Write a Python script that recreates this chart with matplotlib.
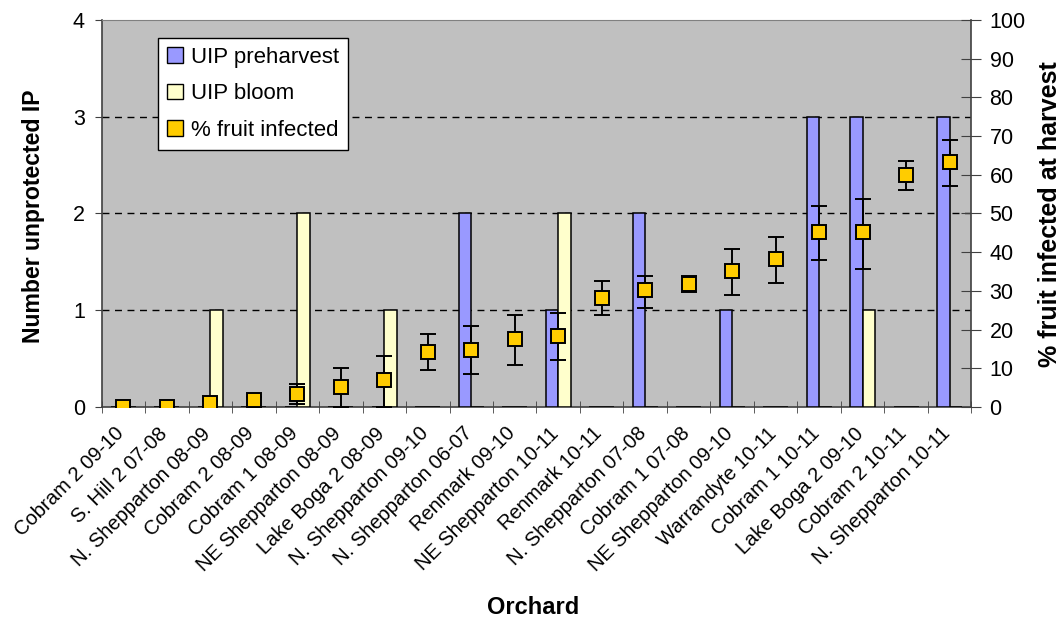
import matplotlib
matplotlib.use('Agg')
import matplotlib.pyplot as plt
import matplotlib.transforms as mtransforms
import numpy as np
from matplotlib.patches import Patch

plt.rcParams['font.family'] = ['Liberation Sans', 'DejaVu Sans']

# Orchards and seasons, ordered by % fruit infected
orchards = [
    "Cobram 2 09-10", "S. Hill 2 07-08", "N. Shepparton 08-09", "Cobram 2 08-09",
    "Cobram 1 08-09", "NE Shepparton 08-09", "Lake Boga 2 08-09", "N. Shepparton 09-10",
    "N. Shepparton 06-07", "Renmark 09-10", "NE Shepparton 10-11", "Renmark 10-11",
    "N. Shepparton 07-08", "Cobram 1 07-08", "NE Shepparton 09-10", "Warrandyte 10-11",
    "Cobram 1 10-11", "Lake Boga 2 09-10", "Cobram 2 10-11", "N. Shepparton 10-11",
]

# Number of unprotected infection periods
uip_preharvest = [0, 0, 0, 0, 0, 0, 0, 0, 2, 0, 1, 0, 2, 0, 1, 0, 3, 3, 0, 3]
uip_bloom = [0, 0, 1, 0, 2, 0, 1, 0, 0, 0, 2, 0, 0, 0, 0, 0, 0, 1, 0, 0]

# % fruit infected at harvest, with lower / upper error limits
fruit_infected = [0, 0, 1, 1.8, 3.3, 5.1, 7, 14.3, 14.7, 17.6, 18.4, 28.2,
                  30.1, 31.8, 35.1, 38.3, 45.2, 45.2, 60, 63.2]
infected_low = [0, 0, 0, 0, 0.8, 0, 0, 9.5, 8.6, 10.9, 12.2, 23.8,
                25.6, 29.8, 28.9, 32.1, 38.1, 35.7, 56.1, 57]
infected_high = [0, 0, 1.6, 2.7, 5.9, 10, 13.3, 18.8, 21, 23.8, 24.2, 32.6,
                 33.9, 33.8, 40.8, 44, 51.9, 53.7, 63.5, 69]

series_labels = ["UIP preharvest", "UIP bloom", "% fruit infected"]
c_pre, c_bloom, c_fruit = '#9999FF', '#FFFFCC', '#FFCC00'

fig = plt.figure(figsize=(10.63, 6.22), dpi=100)
ax = fig.add_axes([0.0955, 0.3457, 0.8184, 0.6222])

x = np.arange(len(orchards))
w = 0.29
ax.bar(x - w / 2, uip_preharvest, w, color=c_pre, edgecolor='black', linewidth=1.1, zorder=3)
ax.bar(x + w / 2, uip_bloom, w, color=c_bloom, edgecolor='black', linewidth=1.1, zorder=3)

ax.set_xlim(-0.5, len(orchards) - 0.5)
ax.set_ylim(0, 4)
ax.set_facecolor('#C0C0C0')
for yv in (1, 2, 3):
    ax.axhline(yv, color='black', linewidth=1.0, dashes=(5, 4), zorder=1)

ax.set_yticks([0, 1, 2, 3, 4])
ax.tick_params(axis='y', labelsize=15.5, length=5, pad=7, direction='out', color='#404040')
ax.set_xticks(x)
ax.set_xticklabels(orchards, rotation=45, ha='right', rotation_mode='anchor', fontsize=14.5)
ax.tick_params(axis='x', which='major', length=0, pad=10)
ax.set_xticks(np.arange(-0.5, len(orchards)), minor=True)
ax.tick_params(axis='x', which='minor', length=8, direction='inout', color='#404040')
shift = mtransforms.ScaledTranslation(-0.09, -0.03, fig.dpi_scale_trans)
for lbl in ax.get_xticklabels():
    lbl.set_transform(lbl.get_transform() + shift)

for s in ('left', 'bottom'):
    ax.spines[s].set_color('#404040')
    ax.spines[s].set_linewidth(1.2)
ax.spines['top'].set_color('#808080')
ax.spines['right'].set_visible(False)

ax2 = ax.twinx()
ax2.set_ylim(0, 100)
ax2.set_yticks(np.arange(0, 101, 10))
ax2.tick_params(axis='y', labelsize=15.5, length=14, pad=6, direction='inout', color='#404040')
for s in ('left', 'top', 'bottom'):
    ax2.spines[s].set_visible(False)
ax2.spines['right'].set_color('#404040')
ax2.spines['right'].set_linewidth(1.2)

fi = np.array(fruit_infected)
yerr = [fi - np.array(infected_low), np.array(infected_high) - fi]
ax2.errorbar(x, fi, yerr=yerr, fmt='none', ecolor='black', elinewidth=1.4,
             capsize=5.5, capthick=1.4, zorder=4)
ax2.plot(x, fi, 's', markersize=10.5, markerfacecolor=c_fruit,
         markeredgecolor='black', markeredgewidth=1.4, zorder=5)

handles = [Patch(facecolor=c, edgecolor='black', linewidth=1.0)
           for c in (c_pre, c_bloom, c_fruit)]
leg = ax2.legend(handles, series_labels, loc='upper left', bbox_to_anchor=(0.065, 0.9535),
                 fontsize=16, frameon=True, fancybox=False, framealpha=1,
                 edgecolor='black', handlelength=0.7, handleheight=0.7,
                 handletextpad=0.4, borderpad=0.4, labelspacing=0.7, borderaxespad=0)
leg.get_frame().set_linewidth(1.0)

fig.text(34 / 1063, 1 - 216 / 622, 'Number unprotected IP', rotation=90,
         ha='center', va='center', fontsize=16.6, fontweight='bold')
fig.text(1050 / 1063, 1 - 214 / 622, '% fruit infected at harvest', rotation=90,
         ha='center', va='center', fontsize=18, fontweight='bold')
fig.text(533 / 1063, 1 - 607 / 622, 'Orchard', ha='center', va='center',
         fontsize=17, fontweight='bold')

fig.savefig('out.png', dpi=100)
